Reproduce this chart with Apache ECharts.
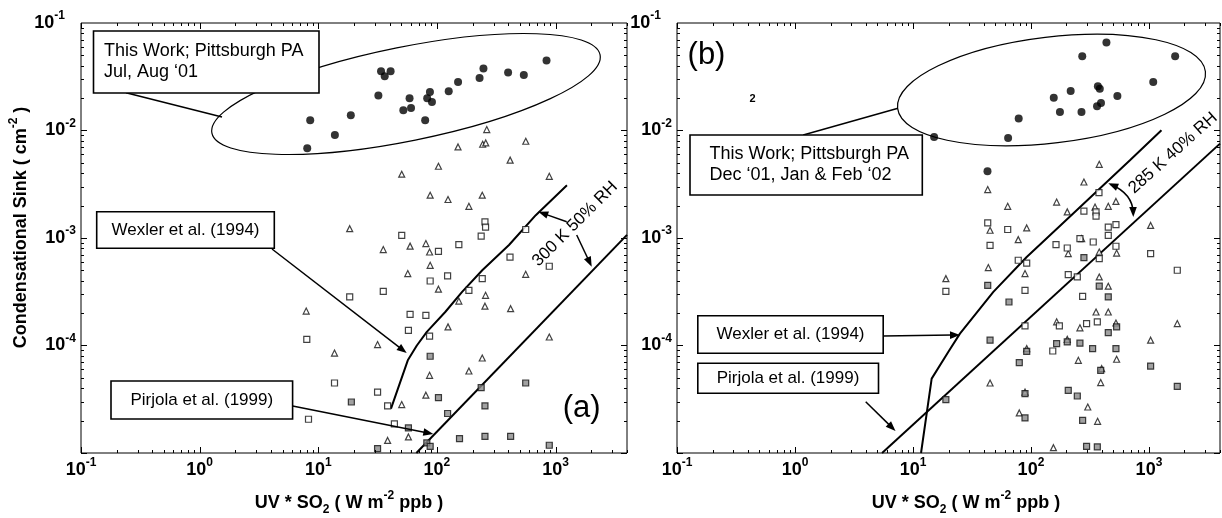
<!DOCTYPE html>
<html>
<head>
<meta charset="utf-8">
<script src="https://cdn.jsdelivr.net/npm/echarts@6/dist/echarts.min.js"></script>
<style>
  html, body { margin: 0; padding: 0; background: #fff; }
  #chart { width: 1222px; height: 518px; }
</style>
</head>
<body>
<div id="chart"></div>
<script>
// panel (a): Jul, Aug '01
const leftCircles = [[8.07,0.00683],[8.55,0.01244],[13.8,0.00908],[18.8,0.01384],[32.1,0.0212],[33.8,0.0356],[36.3,0.0319],[40.7,0.0356],[52.1,0.0154],[58.8,0.0200],[60.5,0.0162],[79.6,0.01244],[82.8,0.0200],[87.3,0.0228],[90.8,0.0184],[125.7,0.0232],[150.7,0.0282],[228.8,0.0308],[246.7,0.0377],[398,0.0346],[540,0.0328],[839,0.0447]]
const leftTriangles = [[263,0.0102],[150.6,0.00703],[243,0.00745],[258,0.00766],[561,0.00794],[414,0.0053],[103,0.00465],[50.5,0.00392],[885,0.00375],[87.7,0.0025],[124,0.00228],[241,0.0025],[186,0.00197],[18.4,0.00122],[35.3,0.00078],[59.4,0.00084],[80.7,0.000887],[86.7,0.000741],[87.7,0.000557],[56.8,0.000467],[560,0.000459],[103,0.000334],[257,0.000293],[153,0.000259],[254,0.000232],[418,0.00022],[7.91,0.000209],[124,0.000149],[885,0.00012],[13.7,0.0000851],[31.6,0.000102],[241,0.0000765],[186,0.0000579],[86.7,0.0000528],[80.7,0.0000345],[50.5,0.0000282],[38.4,0.0000131],[57.5,0.0000141]]
const leftSquares = [[254,0.00141],[257,0.00126],[50.5,0.00106],[236,0.00104],[103,0.000752],[153,0.000869],[560,0.0012],[413,0.000665],[885,0.000546],[123,0.000444],[87.7,0.000398],[241,0.000419],[186,0.000326],[18.4,0.000283],[35.3,0.000319],[59.4,0.000195],[80.7,0.000191],[57.5,0.000138],[86.7,0.000122],[8.0,0.000114],[13.7,0.0000448],[31.6,0.0000369],[38.4,0.0000274],[8.27,0.0000206],[43.8,0.0000187]]
const leftHatched = [[87.7,0.0000794],[103,0.0000327],[236,0.0000406],[560,0.0000448],[254,0.0000274],[123,0.0000233],[19.0,0.0000298],[57.5,0.0000171],[82.2,0.0000124],[87.7,0.0000115],[155,0.0000136],[254,0.0000143],[418,0.0000143],[885,0.0000118],[31.6,0.000011]]
const leftWexler = [[41.0,2.59e-5],[56.8,7.28e-5],[67.7,1.0e-4],[82.2,1.34e-4],[117.5,2.05e-4],[163,3.15e-4],[241,5.01e-4],[405,8.6e-4],[681,1.63e-3],[1247,3.09e-3]]
const leftPirjola = [[67.1,1e-5],[4000,1.07e-3]]

// panel (b): Dec '01, Jan & Feb '02
const rightCircles = [[15.1,0.00871],[64.0,0.00851],[78.7,0.0129],[156,0.0202],[176,0.0149],[217,0.0233],[268,0.0149],[272,0.049],[363,0.0168],[392,0.018],[369,0.0258],[383,0.0245],[436,0.0658],[540,0.0209],[1087,0.0282],[1667,0.049],[42.8,0.00417]]
const rightTriangles = [[379,0.00485],[43.0,0.00282],[281,0.00332],[63.5,0.00197],[165,0.00216],[203,0.00175],[349,0.00194],[452,0.00197],[525,0.00219],[45.0,0.00118],[92,0.00124],[78,0.000966],[207,0.000716],[269,0.000986],[532,0.000724],[379,0.000741],[1033,0.00131],[43.5,0.000531],[89,0.000467],[19,0.000419],[379,0.000434],[452,0.000356],[452,0.000205],[356,0.000205],[165,0.000166],[260,0.000146],[525,0.000162],[1738,0.00016],[92,0.0000935],[203,0.000114],[1033,0.000112],[532,0.0000745],[252,0.0000728],[397,0.000061],[390,0.0000452],[45,0.0000448],[89,0.0000369],[303,0.0000268],[79.6,0.0000236],[367,0.0000197],[155,0.0000112]]
const rightSquares = [[377,0.00264],[43,0.00138],[63.5,0.0012],[45,0.000855],[281,0.00178],[356,0.00175],[356,0.0016],[452,0.00126],[452,0.00106],[525,0.00133],[163,0.000869],[203,0.000807],[260,0.000986],[337,0.000918],[525,0.000838],[379,0.000643],[78,0.000621],[92,0.000585],[19,0.000319],[89,0.000326],[207,0.000457],[247,0.000434],[274,0.000287],[1033,0.000716],[1738,0.000501],[89,0.000152],[174,0.000152],[296,0.00016],[365,0.000166],[153,0.0000889]]
const rightHatched = [[43,0.000363],[65.1,0.000254],[379,0.000356],[452,0.000283],[281,0.000658],[45,0.000112],[92,0.0000883],[165,0.000104],[203,0.000108],[260,0.000105],[333,0.0000935],[452,0.000132],[532,0.000149],[525,0.0000935],[79.6,0.0000693],[390,0.0000587],[1033,0.0000644],[1738,0.0000417],[19,0.0000314],[89,0.0000357],[207,0.0000383],[247,0.0000339],[89,0.0000212],[274,0.0000201],[296,0.0000115],[365,0.0000114]]
const rightWexler = [[11.7,1e-5],[14.4,4.92e-5],[19.9,8.71e-5],[25.0,1.29e-4],[48.0,3.15e-4],[92,6.65e-4],[228,1.69e-3],[690,5.28e-3],[1276,1.005e-2]]
const rightPirjola = [[5.47,1e-5],[4000,7.55e-3]]

const xRange = [0.1, 4000]
const yRange = [1e-5, 0.1]

const FONT = 'Liberation Sans, Arial, Helvetica, sans-serif'
const chart = echarts.init(document.getElementById('chart'), null, { renderer: 'canvas' })

function isPow10(v) {
  const e = Math.log10(v)
  return Math.abs(e - Math.round(e)) < 1e-6 ? Math.round(e) : null
}

const labelRich = {
  b: { fontSize: 18, fontWeight: 'bold', fontFamily: FONT, color: '#000', lineHeight: 26 },
  s: { fontSize: 12, fontWeight: 'bold', fontFamily: FONT, color: '#000', lineHeight: 12, verticalAlign: 'top' },
  st: { fontSize: 12, fontWeight: 'bold', fontFamily: FONT, color: '#000', lineHeight: 12, verticalAlign: 'top', padding: [0, 11, 0, 0] }
}

function xAxisOf(i) {
  return {
    type: 'log', logBase: 10, gridIndex: i, min: xRange[0], max: xRange[1],
    axisLine: { show: false }, axisTick: { show: false }, splitLine: { show: false },
    axisLabel: {
      margin: 4, showMaxLabel: false, rich: labelRich,
      formatter: v => { const e = isPow10(v); return e === null ? '' : '{b|10}{s|' + e + '}' }
    }
  }
}

function yAxisOf(i) {
  return {
    type: 'log', logBase: 10, gridIndex: i, min: yRange[0], max: yRange[1],
    axisLine: { show: false }, axisTick: { show: false }, splitLine: { show: false },
    axisLabel: {
      margin: 5, showMinLabel: false, rich: labelRich,
      formatter: v => {
        const e = isPow10(v)
        if (e === null) return ''
        return e === -1 ? '{b|10}{st|-1}' : '{b|10}{s|' + e + '}'
      }
    }
  }
}

// MATLAB style inward ticks on all four sides
function tickSeries(i, axis) {
  const data = []
  if (axis === 'x') {
    for (let k = -1; k <= 3; k++) for (let m = 1; m <= 9; m++) {
      const v = m * Math.pow(10, k)
      if (v <= xRange[1]) data.push([v, 1e-3, m === 1 ? 1 : 0])
    }
  } else {
    for (let k = -5; k <= -2; k++) for (let m = 1; m <= 9; m++) {
      data.push([1, m * Math.pow(10, k), m === 1 ? 1 : 0])
    }
  }
  return {
    type: 'custom', xAxisIndex: i, yAxisIndex: i, silent: true, z: 5, data,
    renderItem(params, api) {
      const cs = params.coordSys
      const len = api.value(2) === 1 ? 6 : 3
      const st = { stroke: '#000', lineWidth: 1 }
      if (axis === 'x') {
        const p = Math.round(api.coord([api.value(0), 1e-3])[0]) + 0.5
        return { type: 'group', children: [
          { type: 'line', shape: { x1: p, y1: cs.y + cs.height, x2: p, y2: cs.y + cs.height - len }, style: st },
          { type: 'line', shape: { x1: p, y1: cs.y, x2: p, y2: cs.y + len }, style: st }
        ] }
      }
      const q = Math.round(api.coord([1, api.value(1)])[1]) + 0.5
      return { type: 'group', children: [
        { type: 'line', shape: { x1: cs.x, y1: q, x2: cs.x + len, y2: q }, style: st },
        { type: 'line', shape: { x1: cs.x + cs.width, y1: q, x2: cs.x + cs.width - len, y2: q }, style: st }
      ] }
    }
  }
}

function markers(i, data, kind) {
  const base = { type: 'scatter', xAxisIndex: i, yAxisIndex: i, data, z: 4, silent: true }
  if (kind === 'circle') return { ...base, symbol: 'circle', symbolSize: 8, itemStyle: { color: '#000' } }
  if (kind === 'triangle') return { ...base, symbol: 'triangle', symbolSize: 6, itemStyle: { color: '#fff', borderColor: '#111', borderWidth: 1.2 } }
  if (kind === 'square') return { ...base, symbol: 'rect', symbolSize: 6, itemStyle: { color: '#fff', borderColor: '#111', borderWidth: 1.2 } }
  return { ...base, symbol: 'rect', symbolSize: 6, itemStyle: { color: '#8a8a8a', borderColor: '#111', borderWidth: 1.2 } }
}

function model(i, data) {
  return { type: 'line', xAxisIndex: i, yAxisIndex: i, data, symbol: 'none', silent: true, z: 3,
    lineStyle: { color: '#000', width: 2 } }
}

// annotation helpers (pixel space)
const Z = 100
function txt(x, y, text, size, extra) {
  return Object.assign({ type: 'text', x, y, z: Z + 2, silent: true,
    style: Object.assign({ text, fontSize: size, fontFamily: FONT, fill: '#000',
      align: 'center', verticalAlign: 'middle', textAlign: 'center', textVerticalAlign: 'middle' }, (extra && extra.style) || {}) },
    extra && extra.el)
}
function box(x, y, w, h) {
  return { type: 'rect', z: Z + 1, silent: true, shape: { x, y, width: w, height: h },
    style: { fill: '#fff', stroke: '#000', lineWidth: 1.6 } }
}
function seg(x1, y1, x2, y2, lw) {
  return { type: 'line', z: Z, silent: true, shape: { x1, y1, x2, y2 }, style: { stroke: '#000', lineWidth: lw || 1.5 } }
}
function head(x, y, ang) {
  const len = 10, w = 3.8
  const bx = x - len * Math.cos(ang), by = y - len * Math.sin(ang)
  const px = -Math.sin(ang) * w, py = Math.cos(ang) * w
  return { type: 'polygon', z: Z, silent: true, shape: { points: [[x, y], [bx + px, by + py], [bx - px, by - py]] }, style: { fill: '#000' } }
}
function arrow(x1, y1, x2, y2) {
  const a = Math.atan2(y2 - y1, x2 - x1)
  return [seg(x1, y1, x2 - 8 * Math.cos(a), y2 - 8 * Math.sin(a)), head(x2, y2, a)]
}
function ellipse(cx, cy, rx, ry, rot) {
  return { type: 'ellipse', x: cx, y: cy, rotation: rot, z: Z - 1, silent: true,
    shape: { cx: 0, cy: 0, rx, ry }, style: { fill: 'transparent', stroke: '#000', lineWidth: 1.2 } }
}

const titleRich = {
  t: { fontSize: 18, fontWeight: 'bold', fontFamily: FONT, lineHeight: 26 },
  sup: { fontSize: 12, fontWeight: 'bold', fontFamily: FONT, lineHeight: 12, verticalAlign: 'top' },
  sub: { fontSize: 12, fontWeight: 'bold', fontFamily: FONT, lineHeight: 12, verticalAlign: 'bottom' }
}
const xTitle = '{t|UV * SO}{sub|2}{t| ( W m}{sup|-2}{t| ppb )}'
const yTitle = '{t|Condensational Sink ( cm}{sup|-2}{t| )}'

const cx0 = 1132.6, cy0 = 193.7
const graphics = [
  // panel (a)
  ellipse(406, 94, 198, 47, 0.199),
  seg(126, 92.7, 222, 117),
  box(93.5, 31, 225.5, 62),
  txt(104, 62, 'This Work; Pittsburgh PA\nJul, Aug \u201801', 18, { style: { align: 'left', textAlign: 'left', lineHeight: 21 } }),
  box(96.7, 211.7, 177.6, 36.6),
  txt(185.5, 230, 'Wexler et al. (1994)', 17),
  box(111, 381, 181.6, 38),
  txt(201.8, 400, 'Pirjola et al. (1999)', 17),
  ...arrow(272, 249, 406.7, 353),
  ...arrow(292.6, 406, 433.3, 434),
  ...arrow(566.7, 221.7, 538.3, 211.7),
  ...arrow(576.7, 235, 591.7, 266.7),
  txt(575, 224, '300 K 50% RH', 17, { el: { rotation: Math.PI / 4 } }),
  txt(581.7, 408.3, '(a)', 31),
  // panel (b)
  ellipse(1051.5, 90, 155, 53, 0.119),
  seg(803.2, 135, 898, 108.3),
  box(690, 135, 232.3, 60),
  txt(709.5, 165, 'This Work; Pittsburgh PA\nDec \u201801, Jan & Feb \u201802', 18, { style: { align: 'left', textAlign: 'left', lineHeight: 21 } }),
  txt(752.5, 99.3, '2', 11, { style: { fontWeight: 'bold' } }),
  txt(706.5, 55.7, '(b)', 31),
  box(697.8, 315.7, 185.4, 37.6),
  txt(790.5, 334.5, 'Wexler et al. (1994)', 17),
  box(697.8, 363.3, 180.7, 30),
  txt(788, 378.3, 'Pirjola et al. (1999)', 17),
  ...arrow(883.2, 336, 960, 335),
  ...arrow(865.7, 401.7, 895.5, 431),
  { type: 'bezierCurve', z: Z, silent: true,
    shape: { x1: 1111, y1: 184.5, x2: 1133.3, y2: 213, cpx1: cx0, cpy1: cy0 },
    style: { stroke: '#000', lineWidth: 1.5, fill: 'transparent' } },
  head(1108.3, 183.3, Math.atan2(183.3 - cy0, 1108.3 - cx0)),
  head(1133.3, 217, Math.atan2(217 - cy0, 1133.3 - cx0)),
  txt(1173, 153, '285 K 40% RH', 17, { el: { rotation: 0.73 } }),
  // axis titles
  txt(20.7, 227.5, yTitle, 18, { el: { rotation: Math.PI / 2 }, style: { rich: titleRich } }),
  txt(349, 503, xTitle, 18, { style: { rich: titleRich } }),
  txt(966, 503, xTitle, 18, { style: { rich: titleRich } })
]

chart.setOption({
  animation: false,
  backgroundColor: '#fff',
  grid: [
    { left: 81, top: 23, width: 546, height: 430, show: true, borderColor: '#000', borderWidth: 1, backgroundColor: '#fff' },
    { left: 677, top: 23, width: 543, height: 430, show: true, borderColor: '#000', borderWidth: 1, backgroundColor: '#fff' }
  ],
  xAxis: [xAxisOf(0), xAxisOf(1)],
  yAxis: [yAxisOf(0), yAxisOf(1)],
  series: [
    tickSeries(0, 'x'), tickSeries(0, 'y'), tickSeries(1, 'x'), tickSeries(1, 'y'),
    model(0, leftWexler), model(0, leftPirjola),
    model(1, rightWexler), model(1, rightPirjola),
    markers(0, leftTriangles, 'triangle'), markers(0, leftSquares, 'square'),
    markers(0, leftHatched, 'hatched'), markers(0, leftCircles, 'circle'),
    markers(1, rightTriangles, 'triangle'), markers(1, rightSquares, 'square'),
    markers(1, rightHatched, 'hatched'), markers(1, rightCircles, 'circle')
  ],
  graphic: { elements: graphics }
})
</script>
</body>
</html>
